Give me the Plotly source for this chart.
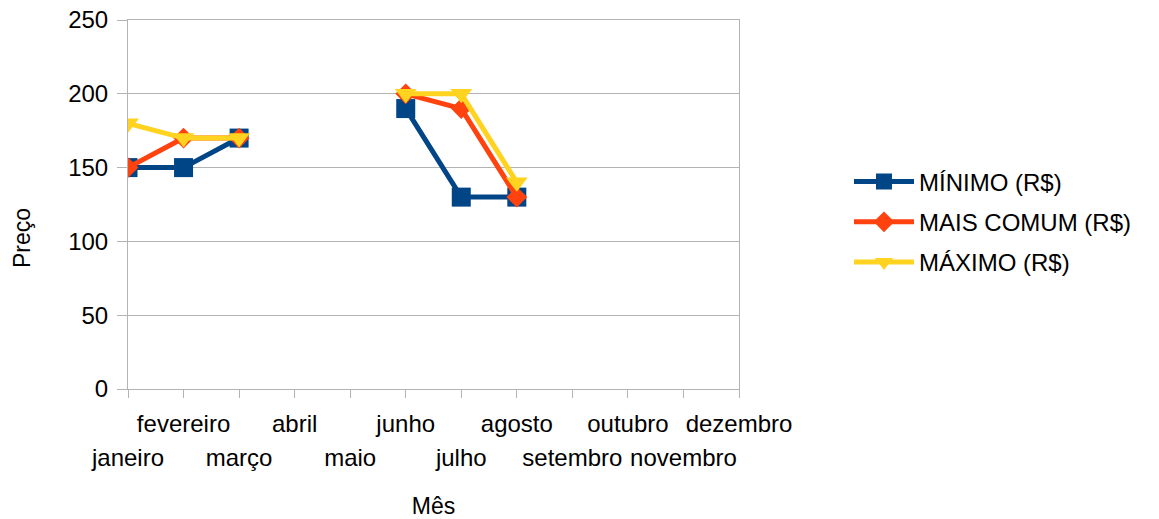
import plotly.graph_objects as go

meses = ["janeiro", "fevereiro", "março", "abril", "maio", "junho",
         "julho", "agosto", "setembro", "outubro", "novembro", "dezembro"]
minimo = [150, 150, 170, None, None, 190, 130, 130, None, None, None, None]
mais_comum = [150, 170, 170, None, None, 200, 190, 130, None, None, None, None]
maximo = [180, 170, 170, None, None, 200, 200, 140, None, None, None, None]
y_ticks = [0, 50, 100, 150, 200, 250]

FONT = "Liberation Sans, Arial, sans-serif"
GRID = "#b3b3b3"

fig = go.Figure()
series = [
    ("MÍNIMO (R$)", minimo, "#004586", "square", 19),
    ("MAIS COMUM (R$)", mais_comum, "#ff420e", "diamond", 16),
    ("MÁXIMO (R$)", maximo, "#ffd320", "triangle-down", 19),
]
for i, (name, vals, color, sym, size) in enumerate(series):
    fig.add_trace(go.Scatter(
        x=meses, y=vals, name=name, mode="lines+markers",
        line=dict(color=color, width=5),
        marker=dict(symbol=sym, size=size, color=color, line=dict(width=0)),
        connectgaps=False, legendgroup=f"g{i}",
    ))

# invisible trace so that the second (lower-row) category axis is drawn
fig.add_trace(go.Scatter(
    x=meses, y=[None] * len(meses), xaxis="x2", yaxis="y",
    mode="lines", showlegend=False, hoverinfo="skip",
))

top_row = [m if i % 2 == 1 else "" for i, m in enumerate(meses)]

fig.update_layout(
    width=1159, height=519,
    margin=dict(l=128, r=420, t=20, b=130),
    paper_bgcolor="white", plot_bgcolor="white",
    font=dict(family=FONT, color="black", size=24),
    showlegend=True,
    legend=dict(x=1.18, y=0.4526, xanchor="left", yanchor="middle",
                font=dict(size=24, family=FONT), tracegroupgap=6,
                itemwidth=60,
                bgcolor="rgba(0,0,0,0)", traceorder="grouped"),
    xaxis=dict(
        type="category", categoryarray=meses, range=[0, 11],
        tickmode="array", tickvals=meses, ticktext=top_row,
        ticks="outside", ticklen=8, tickcolor=GRID, tickwidth=1,
        showline=True, linecolor=GRID, linewidth=1, mirror=True,
        showgrid=False, zeroline=False,
        tickfont=dict(size=24, family=FONT), ticklabelstandoff=5,
        title=dict(text="Mês", font=dict(size=23, family=FONT), standoff=62),
        automargin=False,
    ),
    xaxis2=dict(
        type="category", categoryarray=meses, range=[0, 11],
        overlaying="x", side="bottom", anchor="y",
        tickmode="array", tickvals=meses[0::2], ticktext=meses[0::2],
        ticks="", showline=False, showgrid=False, zeroline=False,
        tickfont=dict(size=24, family=FONT), ticklabelstandoff=52,
        automargin=False,
    ),
    yaxis=dict(
        range=[0, 250], tickmode="array", tickvals=y_ticks,
        ticks="outside", ticklen=10, tickcolor=GRID, tickwidth=1,
        showline=True, linecolor=GRID, linewidth=1, mirror=True,
        showgrid=True, gridcolor=GRID, gridwidth=1, zeroline=False,
        tickfont=dict(size=24, family=FONT), ticklabelstandoff=4,
        ticklabeloverflow="allow",
        automargin=False,
    ),
    annotations=[dict(
        text="Preço", textangle=-90, xref="paper", yref="paper",
        x=-0.1735, y=0.409, xanchor="center", yanchor="middle",
        showarrow=False, font=dict(size=23, family=FONT),
    )],
)

fig.write_html("out.html",
               config={"displayModeBar": False},
               post_script="document.body.style.margin='0';")
